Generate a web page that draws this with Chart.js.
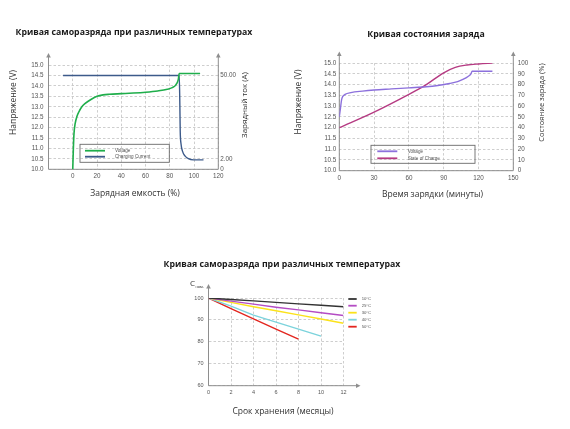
<!DOCTYPE html>
<html><head><meta charset="utf-8">
<script src="https://cdn.jsdelivr.net/npm/chart.js@4.4.1/dist/chart.umd.min.js"></script>
<style>
html,body{margin:0;padding:0;background:#fff;}
body{width:570px;height:429px;position:relative;overflow:hidden;}
canvas{position:absolute;}
</style></head><body>
<canvas id="c1" width="268" height="215" style="left:0px;top:0px;width:268px;height:215px"></canvas>
<canvas id="c2" width="268" height="215" style="left:292px;top:0px;width:268px;height:215px"></canvas>
<canvas id="c3" width="264" height="184" style="left:150px;top:245px;width:264px;height:184px"></canvas>
<script>
// ---------------- DATA ----------------
// Chart 1: charge capacity (%) vs voltage (V) and charging current (A)
const capacityPct      = [0, 0.5, 1, 2, 3.5, 5, 7.5, 10, 15, 20, 25, 30, 40, 50, 60, 70, 78, 82, 85, 87, 87.8, 105];
const capacityVoltage  = [10.0, 11.0, 11.7, 12.2, 12.55, 12.75, 13.0, 13.15, 13.35, 13.5, 13.57, 13.6, 13.63, 13.66, 13.7, 13.76, 13.84, 13.92, 14.05, 14.3, 14.6, 14.6];
const currentPct       = [-8, 87.8, 88.3, 88.6, 89.2, 90.6, 92.5, 95.3, 99.4, 107.8];
const chargingCurrent  = [50, 50, 33, 18, 11, 6.2, 3.7, 2.1, 1.8, 1.8];
const currentTicks     = [0, 2, 50];

// Chart 2: charging time (min) vs voltage (V) and state of charge (%)
const timeVoltMin      = [0, 1, 2, 3, 5, 10, 20, 30, 45, 60, 75, 85, 95, 102, 107, 111, 113.5, 114.5, 132];
const timeVoltage      = [12.5, 12.9, 13.3, 13.45, 13.55, 13.63, 13.7, 13.75, 13.8, 13.85, 13.9, 13.96, 14.05, 14.14, 14.25, 14.38, 14.5, 14.62, 14.62];
const socMin           = [0, 30, 60, 75, 90, 100, 110, 120, 132];
const socPct           = [40, 54.5, 71, 80, 91, 96, 98.2, 99.2, 100];

// Chart 3: storage months vs remaining capacity (%)
const months  = [0, 2, 4, 6, 8, 10, 12];
const temp10  = [100, 99.3, 98.7, 98.0, 97.3, 96.7, 96.0];
const temp25  = [100, 98.6, 97.2, 95.8, 94.6, 93.3, 92.0];
const temp30  = [100, 98.0, 96.0, 94.2, 92.3, 90.4, 88.5];
const temp40  = [100, 96.3, 92.2, 89.0, 85.8, 82.6];
const temp50  = [100, 95.2, 90.5, 85.8, 81.2];
const tempLabels = ['10°C', '25°C', '30°C', '40°C', '50°C'];

// ---------------- helpers ----------------
const pts = (xs, ys) => ys.map((y, i) => ({x: xs[i], y}));

// piecewise scale for the charging-current axis (0 → 2 → 50 A)
const AMP_BREAKS = [[0, 0], [2, 0.1], [56, 1]];
class PiecewiseScale extends Chart.LinearScale {
  _frac(v) {
    const b = AMP_BREAKS;
    for (let i = 1; i < b.length; i++) {
      if (v <= b[i][0] || i === b.length - 1) {
        const [v0, f0] = b[i - 1], [v1, f1] = b[i];
        return f0 + (v - v0) / (v1 - v0) * (f1 - f0);
      }
    }
  }
  getPixelForValue(v) {
    if (v === null || v === undefined || isNaN(v)) return NaN;
    return this.getPixelForDecimal(this._frac(v));
  }
  getValueForPixel(p) {
    const d = this.getDecimalForPixel(p), b = AMP_BREAKS;
    for (let i = 1; i < b.length; i++) {
      if (d <= b[i][1] || i === b.length - 1) {
        const [v0, f0] = b[i - 1], [v1, f1] = b[i];
        return v0 + (d - f0) / (f1 - f0) * (v1 - v0);
      }
    }
  }
}
PiecewiseScale.id = 'piecewise';
PiecewiseScale.defaults = {};
Chart.register(PiecewiseScale);

const AXIS = '#8e8e8e';
const GRID = '#c2c2c2';
const TXT = '#333333';
const TICK_FAMILY = '"Liberation Sans", Arial, sans-serif';
const TITLE_FAMILY = '"Open Sans", "DejaVu Sans", sans-serif';

const decorPlugin = {
  id: 'decor',
  beforeDatasetsDraw(chart, args, o) {
    const {ctx, chartArea: a} = chart;
    ctx.save();
    ctx.strokeStyle = AXIS; ctx.fillStyle = AXIS; ctx.lineWidth = 1;
    const tri = (p) => { ctx.beginPath(); ctx.moveTo(p[0][0], p[0][1]); ctx.lineTo(p[1][0], p[1][1]); ctx.lineTo(p[2][0], p[2][1]); ctx.closePath(); ctx.fill(); };
    const xEnd = a.right + (o.xArrow || 0);
    ctx.beginPath();
    ctx.moveTo(a.left, a.bottom); ctx.lineTo(xEnd - (o.xArrow ? 3 : 0), a.bottom);
    (o.vAxes || []).forEach(side => {
      const x = side === 'left' ? a.left : a.right;
      ctx.moveTo(x, a.bottom); ctx.lineTo(x, a.top - o.yArrow + 3);
    });
    ctx.stroke();
    (o.vAxes || []).forEach(side => {
      const x = side === 'left' ? a.left : a.right;
      const t = a.top - o.yArrow;
      tri([[x, t], [x - 2.3, t + 4.5], [x + 2.3, t + 4.5]]);
    });
    if (o.xArrow) tri([[xEnd, a.bottom], [xEnd - 4.5, a.bottom - 2.3], [xEnd - 4.5, a.bottom + 2.3]]);
    ctx.restore();
  },
  afterDraw(chart, args, o) {
    const {ctx} = chart;
    ctx.save();
    (o.texts || []).forEach(t => {
      ctx.save();
      ctx.translate(t.x, t.y);
      if (t.rot) ctx.rotate(t.rot);
      ctx.font = t.font; ctx.fillStyle = t.color || TXT;
      ctx.textAlign = t.align || 'center'; ctx.textBaseline = 'middle';
      ctx.fillText(t.text, 0, 0);
      ctx.restore();
    });
    const lg = o.legend;
    if (lg) {
      if (lg.box) {
        ctx.strokeStyle = '#6a6a6a'; ctx.lineWidth = 0.9;
        ctx.strokeRect(lg.box[0], lg.box[1], lg.box[2] - lg.box[0], lg.box[3] - lg.box[1]);
      }
      chart.data.datasets.forEach((ds, i) => {
        const y = lg.ys[i];
        ctx.strokeStyle = ds.borderColor; ctx.lineWidth = lg.lw;
        ctx.beginPath(); ctx.moveTo(lg.x0, y); ctx.lineTo(lg.x1, y); ctx.stroke();
        ctx.fillStyle = '#555'; ctx.font = lg.font; ctx.textAlign = 'left'; ctx.textBaseline = 'middle';
        ctx.fillText(ds.label, lg.tx, y);
      });
    }
    ctx.restore();
  }
};

const gridOpt = {color: GRID, lineWidth: 0.8, drawTicks: false};
const borderOpt = {display: false, dash: [2.5, 2]};
const tickFont = (s) => ({family: TICK_FAMILY, size: s});
const titleOpt = (text, top, bottom) => ({
  display: true, text, color: '#1a1a1a',
  font: {family: TITLE_FAMILY, size: 8.75, weight: 'bold'},
  padding: {top, bottom}
});
const baseOpts = {
  responsive: false, animation: false,
  layout: {padding: 0},
  elements: {point: {radius: 0}},
  events: []
};

// ---------------- Chart 1 ----------------
new Chart(document.getElementById('c1'), {
  type: 'line',
  data: {datasets: [
    {label: 'Voltage', data: pts(capacityPct, capacityVoltage), yAxisID: 'y', borderColor: '#1fae4b', borderWidth: 1.6, cubicInterpolationMode: 'monotone', fill: false},
    {label: 'Charging Current', data: pts(currentPct, chargingCurrent), yAxisID: 'y2', borderColor: '#3c5a8a', borderWidth: 1.4, cubicInterpolationMode: 'monotone', fill: false}
  ]},
  options: Object.assign({}, baseOpts, {
    scales: {
      x: {type: 'linear', min: -20, max: 120, grid: gridOpt, border: borderOpt,
          ticks: {stepSize: 20, font: tickFont(6.3), color: '#555', padding: 3, maxRotation: 0, autoSkip: false,
                  callback: v => v < 0 ? '' : String(v)},
          afterFit: s => { s.height = 45.7; }},
      y: {type: 'linear', position: 'left', min: 10, max: 15, grid: gridOpt, border: borderOpt,
          ticks: {stepSize: 0.5, autoSkip: false, font: tickFont(6.3), color: '#555', padding: 5, callback: v => v.toFixed(1)},
          afterFit: s => { s.width = 48.5; }},
      y2: {type: 'piecewise', position: 'right', min: 0, max: 56, grid: {display: false, drawTicks: false}, border: {display: false},
           afterBuildTicks: s => { s.ticks = currentTicks.map(v => ({value: v})); },
           ticks: {autoSkip: false, font: tickFont(6.3), color: '#555', padding: 2, callback: v => v === 0 ? '0' : v.toFixed(2)},
           afterFit: s => { s.width = 49.7; }}
    },
    plugins: {
      legend: {display: false}, tooltip: {enabled: false},
      title: titleOpt('Кривая саморазряда при различных температурах', 27.7, 26.9),
      decor: {
        vAxes: ['left', 'right'], yArrow: 12,
        texts: [
          {text: 'Напряжение (V)', x: 14, y: 102.5, rot: -Math.PI / 2, font: '8.5px ' + TITLE_FAMILY},
          {text: 'Зарядный ток (А)', x: 245, y: 105, rot: -Math.PI / 2, font: '8px ' + TITLE_FAMILY},
          {text: 'Зарядная емкость (%)', x: 135, y: 194, font: '8.5px ' + TITLE_FAMILY}
        ],
        legend: {box: [80, 144.3, 169.3, 162.3], x0: 85, x1: 105, tx: 115, ys: [150.7, 156.7], lw: 1.8, font: '4.6px ' + TICK_FAMILY}
      }
    }
  }),
  plugins: [decorPlugin]
});

// ---------------- Chart 2 ----------------
new Chart(document.getElementById('c2'), {
  type: 'line',
  data: {datasets: [
    {label: 'Voltage', data: pts(timeVoltMin, timeVoltage), yAxisID: 'y', borderColor: '#8c70dc', borderWidth: 1.4, cubicInterpolationMode: 'monotone', fill: false},
    {label: 'State of Charge', data: pts(socMin, socPct), yAxisID: 'y2', borderColor: '#b53a82', borderWidth: 1.4, cubicInterpolationMode: 'monotone', fill: false}
  ]},
  options: Object.assign({}, baseOpts, {
    scales: {
      x: {type: 'linear', min: 0, max: 150, grid: gridOpt, border: borderOpt,
          ticks: {stepSize: 30, font: tickFont(6.3), color: '#555', padding: 3.8, maxRotation: 0, autoSkip: false},
          afterFit: s => { s.height = 44.3; }},
      y: {type: 'linear', position: 'left', min: 10, max: 15, grid: gridOpt, border: borderOpt,
          ticks: {stepSize: 0.5, autoSkip: false, font: tickFont(6.3), color: '#555', padding: 3, callback: v => v.toFixed(1)},
          afterFit: s => { s.width = 47.3; }},
      y2: {type: 'linear', position: 'right', min: 0, max: 100, grid: {display: false, drawTicks: false}, border: {display: false},
           ticks: {stepSize: 10, autoSkip: false, font: tickFont(6.3), color: '#555', padding: 4.5},
           afterFit: s => { s.width = 46.7; }}
    },
    plugins: {
      legend: {display: false}, tooltip: {enabled: false},
      title: titleOpt('Кривая состояния заряда', 29.7, 22.9),
      decor: {
        vAxes: ['left', 'right'], yArrow: 11.6,
        texts: [
          {text: 'Напряжение (V)', x: 7, y: 102, rot: -Math.PI / 2, font: '8.5px ' + TITLE_FAMILY},
          {text: 'Состояние заряда (%)', x: 249.7, y: 102.5, rot: -Math.PI / 2, font: '7.5px ' + TITLE_FAMILY},
          {text: 'Время зарядки (минуты)', x: 140.5, y: 194.3, font: '8.5px ' + TITLE_FAMILY}
        ],
        legend: {box: [79, 145.3, 183, 163.3], x0: 85.3, x1: 105.3, tx: 115.7, ys: [151.3, 158.3], lw: 1.8, font: '4.6px ' + TICK_FAMILY}
      }
    }
  }),
  plugins: [decorPlugin]
});

// ---------------- Chart 3 ----------------
const tempSeries = [temp10, temp25, temp30, temp40, temp50];
const tempColors = ['#333333', '#b44cc4', '#fbe21a', '#7cd3dc', '#e3261f'];
new Chart(document.getElementById('c3'), {
  type: 'line',
  data: {datasets: tempSeries.map((s, i) => ({
    label: tempLabels[i], data: pts(months, s), borderColor: tempColors[i], borderWidth: 1.4, tension: 0, fill: false
  }))},
  options: Object.assign({}, baseOpts, {
    scales: {
      x: {type: 'linear', min: 0, max: 12, grid: gridOpt, border: borderOpt,
          ticks: {stepSize: 2, font: tickFont(5.5), color: '#555', padding: 3.7, maxRotation: 0, autoSkip: false},
          afterFit: s => { s.height = 43.3; }},
      y: {type: 'linear', position: 'left', min: 60, max: 100, grid: gridOpt, border: borderOpt,
          ticks: {stepSize: 10, autoSkip: false, font: tickFont(5.5), color: '#555', padding: 5},
          afterFit: s => { s.width = 58.5; }},
      legendSpace: {type: 'linear', position: 'right', min: 60, max: 100, grid: {display: false, drawTicks: false}, border: {display: false},
          ticks: {display: false},
          afterFit: s => { s.width = 70.5; }}
    },
    plugins: {
      legend: {display: false}, tooltip: {enabled: false},
      title: titleOpt('Кривая саморазряда при различных температурах', 14.6, 27.9),
      decor: {
        vAxes: ['left'], yArrow: 14, xArrow: 17,
        texts: [
          {text: 'C', x: 40, y: 38.5, align: 'left', font: '8px ' + TITLE_FAMILY},
          {text: 'ном.', x: 45.5, y: 41.5, align: 'left', font: '4px ' + TICK_FAMILY},
          {text: 'Срок хранения (месяцы)', x: 133, y: 166.7, font: '8.5px ' + TITLE_FAMILY}
        ],
        legend: {box: null, x0: 198.3, x1: 206.7, tx: 211.7, ys: [54, 60.7, 67.7, 74.7, 81.7], lw: 1.8, font: '4.2px ' + TICK_FAMILY}
      }
    }
  }),
  plugins: [decorPlugin]
});
</script>
</body></html>
